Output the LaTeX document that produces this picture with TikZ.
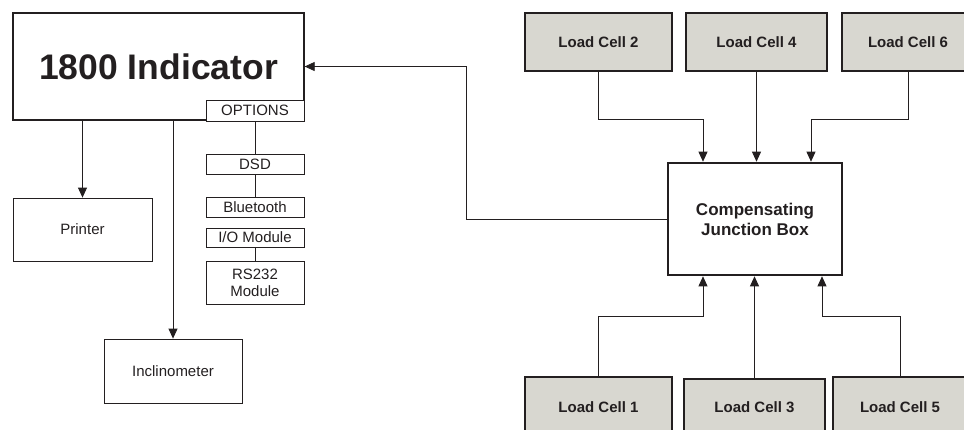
\documentclass[tikz,border=0pt]{standalone}
\usepackage{fontspec}
\setmainfont{Liberation Sans}
\usetikzlibrary{arrows.meta}

\definecolor{cellgray}{RGB}{216,215,208}
\definecolor{ink}{RGB}{35,31,32}

\tikzset{
    box/.style={draw=ink, line width=0.8pt, text=ink, align=center,
        inner sep=0pt, font=\fontsize{15}{17}\selectfont},
    cell/.style={box, fill=cellgray, line width=1.5pt,
        font=\fontsize{15}{17}\selectfont\bfseries},
    wire/.style={draw=ink, line width=0.8pt},
    arr/.style={wire, -{Triangle[length=10pt, width=9pt]}}
}

\begin{document}
\begin{tikzpicture}[x=1pt, y=-1pt]
    \useasboundingbox (0,0) rectangle (964,429);
    \clip (0,0) rectangle (964,429);
    \node [box, line width=1.3pt, minimum width=291, minimum height=107,
        font=\fontsize{35.5}{40}\selectfont\bfseries] (ind) at (158.5,66.5) {1800 Indicator};
    \node [box, fill=white, minimum width=98, minimum height=21] (opt) at (255,110.5) {OPTIONS};
    \node [box, minimum width=98, minimum height=20] (dsd) at (255,164) {DSD};
    \node [box, minimum width=98, minimum height=20] (bt) at (255,207) {Bluetooth};
    \node [box, minimum width=98, minimum height=19] (io) at (255,237.5) {I/O Module};
    \node [box, minimum width=98, minimum height=43] (rs) at (255,282.5) {RS232\\Module};
    \node [box, minimum width=139, minimum height=63] (printer) at (82.5,229.5) {Printer};
    \node [box, minimum width=138, minimum height=64] (incl) at (173,371) {Inclinometer};
    \node [box, line width=2.6pt, minimum width=174, minimum height=112,
        font=\fontsize{17}{20}\selectfont\bfseries] (jb) at (755,219) {Compensating\\Junction Box};
    \node [cell, minimum width=147, minimum height=58] (lc2) at (598.5,42) {Load Cell 2};
    \node [cell, minimum width=141, minimum height=58] (lc4) at (756.5,42) {Load Cell 4};
    \node [cell, minimum width=132, minimum height=58] (lc6) at (908,42) {Load Cell 6};
    \node [cell, minimum width=147, minimum height=60] (lc1) at (598.5,407) {Load Cell 1};
    \node [cell, minimum width=141, minimum height=56] (lc3) at (754.5,407) {Load Cell 3};
    \node [cell, minimum width=134, minimum height=60] (lc5) at (900,407) {Load Cell 5};
    \coordinate (topbus) at (0,119);
    \coordinate (botbus) at (0,316);
    \coordinate (ret) at (466,0);
    \coordinate (jb2) at ([xshift=-52]jb.north);
    \coordinate (jb6) at ([xshift=56]jb.north);
    \coordinate (jb1) at ([xshift=-52]jb.south);
    \coordinate (jb5) at ([xshift=67]jb.south);
    \draw [arr] (printer.north |- ind.south) -- (printer.north);
    \draw [arr] (incl.north |- ind.south) -- (incl.north);
    \draw [wire] (opt) -- (dsd);
    \draw [wire] (dsd) -- (bt);
    \draw [wire] (io) -- (rs);
    \draw [arr] (lc2.south) -- (lc2.south |- topbus) -| (jb2);
    \draw [arr] (lc4.south) -- (lc4.south |- jb.north);
    \draw [arr] (lc6.south) -- (lc6.south |- topbus) -| (jb6);
    \draw [arr] (lc1.north) -- (lc1.north |- botbus) -| (jb1);
    \draw [arr] (lc3.north) -- (lc3.north |- jb.south);
    \draw [arr] (lc5.north) -- (lc5.north |- botbus) -| (jb5);
    \draw [arr] (jb.west) -- (jb.west -| ret) |- (ind.east);
\end{tikzpicture}
\end{document}
